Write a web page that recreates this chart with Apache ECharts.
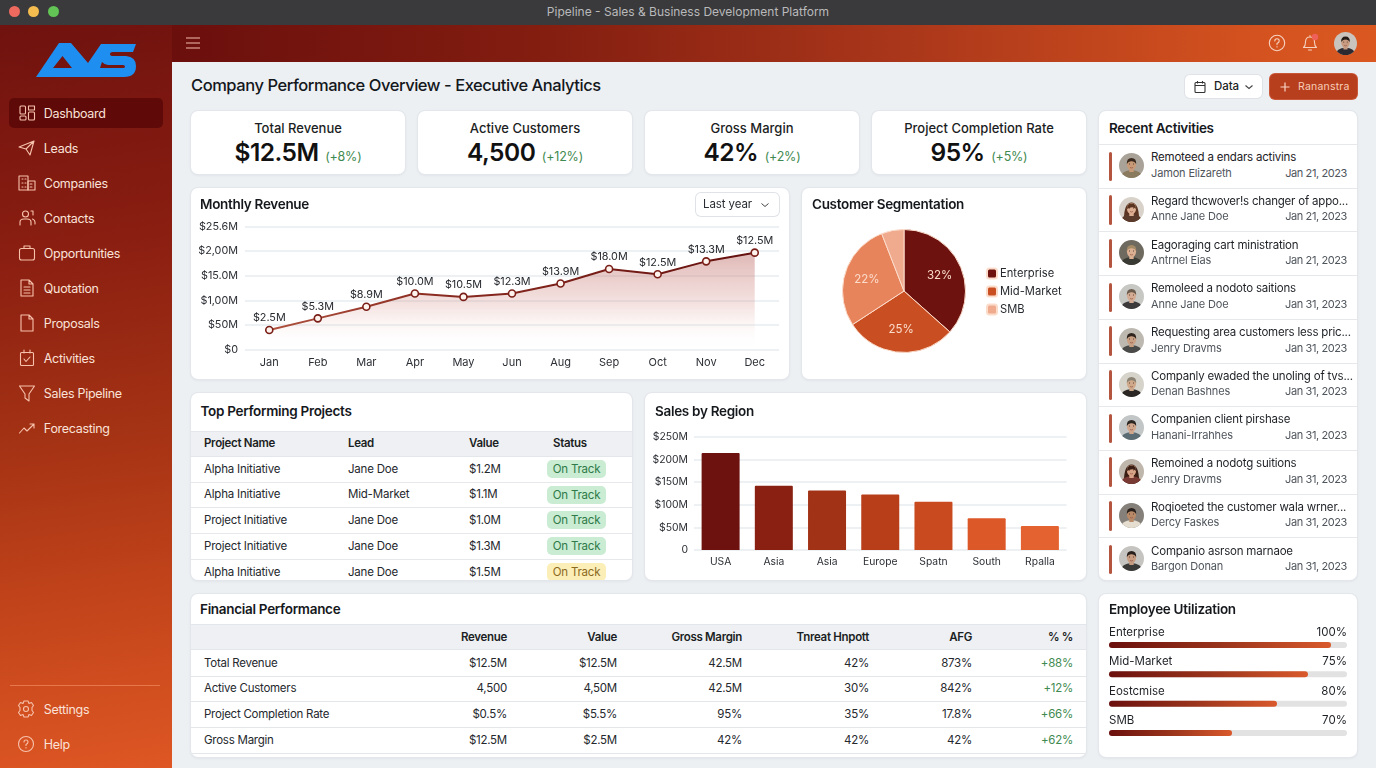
<!DOCTYPE html>
<html><head><meta charset="utf-8"><title>Pipeline</title>
<script src="https://cdn.jsdelivr.net/npm/echarts@6/dist/echarts.min.js"></script>
<style>
html,body{margin:0;padding:0;width:1376px;height:768px;overflow:hidden;background:#edf0f3;font-family:Inter,"Noto Sans",sans-serif;color:#1b1e23}
#root{position:absolute;left:0;top:0;width:1376px;height:768px;overflow:hidden}
.a{position:absolute}
.t{position:absolute;white-space:nowrap;transform:translateY(-50%);line-height:1.2;margin-top:.8px}
.card{position:absolute;background:#fff;border-radius:7px;box-shadow:0 0 0 1px #e3e6ea,0 1px 3px rgba(30,40,60,.10);overflow:hidden}
.t.title{font-size:13.5px;font-weight:600;letter-spacing:-.3px;color:#15181c;margin-top:-.4px}
.pill{position:absolute;border-radius:5px;text-align:center;font-size:11.5px;letter-spacing:-.2px;transform:translateY(-50%);height:18px;line-height:18px}
svg{position:absolute;overflow:visible}
</style></head><body><div id="root"></div>
<script>
// ---------- chart data ----------
var months=['Jan','Feb','Mar','Apr','May','Jun','Aug','Sep','Oct','Nov','Dec'];
var revenue=[4.0,6.35,8.7,11.4,10.7,11.4,13.4,16.35,15.3,17.9,19.66];
var revenueLabels=['$2.5M','$5.3M','$8.9M','$10.0M','$10.5M','$12.3M','$13.9M','$18.0M','$12.5M','$13.3M','$12.5M'];
var revenueTicks=['$0','$50M','$1,00M','$15.0M','$2,00M','$25.6M'];
var segmentNames=['Enterprise','Mid-Market','Other','SMB'];
var segmentValues=[36.6,29.2,28.3,5.9];
var segmentLabels=['32%','25%','22%',''];
var legendNames=['Enterprise','Mid-Market','SMB'];
var regions=['USA','Asia','Asia','Europe','Spatn','South','Rpalla'];
var regionValues=[214.5,142,131.7,122.8,107,70,53];
var regionTicks=['0','$50M','$100M','$150M','$200M','$250M'];
var utilNames=['Enterprise','Mid-Market','Eostcmise','SMB'];
var utilLabels=['100%','75%','80%','70%'];
var utilFill=[93.3,83.6,70.6,51.7];
// ---------- table / list data ----------
var navItems=['Dashboard','Leads','Companies','Contacts','Opportunities','Quotation','Proposals','Activities','Sales Pipeline','Forecasting'];
var kpis=[['Total Revenue','$12.5M','(+8%)'],['Active Customers','4,500','(+12%)'],['Gross Margin','42%','(+2%)'],['Project Completion Rate','95%','(+5%)']];
var projectHead=['Project Name','Lead','Value','Status'];
var projects=[['Alpha Initiative','Jane Doe','$1.2M','On Track'],['Alpha Initiative','Mid-Market','$1.1M','On Track'],['Project Initiative','Jane Doe','$1.0M','On Track'],['Project Initiative','Jane Doe','$1.3M','On Track'],['Alpha Initiative','Jane Doe','$1.5M','On Track']];
var finHead=['','Revenue','Value','Gross Margin','Tnreat Hnpott','AFG','% %'];
var finRows=[['Total Revenue','$12.5M','$12.5M','42.5M','42%','873%','+88%'],['Active Customers','4,500','4,50M','42.5M','30%','842%','+12%'],['Project Completion Rate','$0.5%','$5.5%','95%','35%','17.8%','+66%'],['Gross Margin','$12.5M','$2.5M','42%','42%','42%','+62%']];
var activities=[['Remoteed a endars activins','Jamon Elizareth','Jan 21, 2023'],['Regard thcwover!s changer of appo...','Anne Jane Doe','Jan 21, 2023'],['Eagoraging cart ministration','Antrnel Eias','Jan 21, 2023'],['Remoleed a nodoto saitions','Anne Jane Doe','Jan 31, 2023'],['Requesting area customers less pric...','Jenry Dravms','Jan 31, 2023'],['Companly ewaded the unoling of tvs...','Denan Bashnes','Jan 31, 2023'],['Companien client pirshase','Hanani-Irrahhes','Jan 31, 2023'],['Remoined a nodotg suitions','Jenry Dravms','Jan 31, 2023'],['Roqioeted the customer wala wrner...','Dercy Faskes','Jan 31, 2023'],['Companio asrson marnaoe','Bargon Donan','Jan 31, 2023']];

// ---------- helpers ----------
var root=document.getElementById('root');
function el(cls,css,parent,html){var d=document.createElement('div');d.className=cls;d.style.cssText=css;if(html!==undefined)d.innerHTML=html;(parent||root).appendChild(d);return d;}
function txt(s,x,y,css,parent){var d=el('t','left:'+x+'px;top:'+y+'px;'+(css||''),parent);d.textContent=s;return d;}
function rtxt(s,r,y,css,parent){var d=el('t','right:'+r+'px;top:'+y+'px;'+(css||''),parent);d.textContent=s;return d;}
function card(x,y,x2,y2){return el('card','left:'+x+'px;top:'+y+'px;width:'+(x2-x)+'px;height:'+(y2-y)+'px');}

// ---------- window chrome ----------
el('a','left:0;top:0;width:1376px;height:25px;background:#3a3a3c;border-bottom:1px solid #2a1a18');
[['#ee6a5f',14],['#f5bd4f',33],['#61c454',53]].forEach(function(c){el('a','left:'+(c[1]-5.5)+'px;top:5.5px;width:11px;height:11px;border-radius:50%;background:'+c[0]);});
txt('Pipeline - Sales & Business Development Platform',688,11,'font-size:12px;color:#b9b9bb;transform:translate(-50%,-50%)');
el('a','left:0;top:25px;width:172px;height:743px;background:linear-gradient(172deg,#70120f 0%,#8a1e11 30%,#a43214 55%,#c4451b 78%,#de5724 100%)');
el('a','left:172px;top:25px;width:1204px;height:37px;background:linear-gradient(90deg,#6b0f0d 0%,#821d10 30%,#a9361a 60%,#d4521f 90%,#da5820 100%)');

// logo
el('a','left:0;top:0;width:172px;height:100px',root,'<svg width="172" height="100"><path fill="#1e8ff0" fill-rule="evenodd" d="M36 77 L59 43 L71 43 L88 63 L101 44 L136 44 L133 52 L113 52 Q110 52 110 54 Q110 56 113 56 L126 56 Q136 57 136 66 Q136 77 124 77 L36 77 Z M53 68 L72 68 L62.5 56 Z M100 68 L123 68 Q125 68 125 66.5 Q125 65 123 65 L108 65 Q104 64.5 102 62 Z"/></svg>');

// sidebar
var ic='fill="none" stroke="#f7c2ac" stroke-width="1.1" stroke-linecap="round" stroke-linejoin="round"';
var navIcons=[
 '<rect x="-7" y="-7" width="5.5" height="8" rx="1"/><rect x="1.5" y="-7" width="6" height="4"/><rect x="-7" y="3" width="6" height="4" rx="1"/><rect x="1.5" y="-1" width="6" height="8" rx="1"/>',
 '<path d="M-8 -1 L7 -7 L3 7 L-1 1 Z M-1 1 L7 -7"/>',
 '<rect x="-8" y="-7" width="9" height="14"/><rect x="1" y="-2" width="7" height="9"/><path d="M-5 -4h1M-2 -4h1M-5 0h1M-2 0h1M-5 4h1M-2 4h1M3 1h2M3 4h2"/>',
 '<circle cx="-1.5" cy="-4" r="3"/><path d="M-7 7 V4 Q-7 1 -3 1 H0 Q4 1 4 4 V7 M4 -7 h2 v4 M5.5 1 Q8 2 8 4 V6"/>',
 '<rect x="-7.5" y="-4.5" width="15" height="11.5" rx="2"/><path d="M-3 -4.5 V-7 H3 V-4.5"/>',
 '<path d="M-6 -8 H2 L6 -4 V8 H-6 Z M2 -8 V-4 H6 M-3 -1 H3 M-3 2 H3 M-3 5 H3"/>',
 '<path d="M-6 -8 H2 L6 -4 V8 H-6 Z M2 -8 V-4 H6"/>',
 '<rect x="-6.5" y="-5.5" width="13" height="13" rx="1"/><path d="M-3 -8 V-5 M3 -8 V-5 M-3 1 L-1 3.5 L3 -1"/>',
 '<path d="M-7.5 -7 H7.5 L2 1 V8 L-2 5 V1 Z"/>',
 '<path d="M-7.5 5 L-3 0 L0 3 L7 -4 M3 -4 H7 V0"/>'];
el('a','left:9px;top:98px;width:154px;height:30px;border-radius:5px;background:#5c0a09;opacity:.92');
var navCss='font-size:12.5px;letter-spacing:-.3px;color:#fae2d8;margin-top:0';
navItems.forEach(function(n,i){var y=113+35*i;
 txt(n,43.8,y,navCss);
 el('a','left:27px;top:'+y+'px',root,'<svg width="1" height="1" '+ic+'>'+navIcons[i]+'</svg>');
});
el('a','left:10px;top:685px;width:150px;height:1px;background:#e8774b');
txt('Settings',43.8,708.5,navCss);txt('Help',43.8,744,navCss);
el('a','left:26px;top:709px',root,'<svg width="1" height="1" '+ic+'><circle r="2.5"/><path d="M-2 -8 L2 -8 L3 -5.5 L5.5 -6.5 L7.5 -3.5 L6 -1.5 V1.5 L7.5 3.5 L5.5 6.5 L3 5.5 L2 8 H-2 L-3 5.5 L-5.5 6.5 L-7.5 3.5 L-6 1.5 V-1.5 L-7.5 -3.5 L-5.5 -6.5 L-3 -5.5 Z"/></svg>');
el('a','left:26px;top:744px',root,'<svg width="1" height="1" '+ic+'><circle r="7.5"/><path d="M-2 -2 Q-2 -4 0 -4 Q2 -4 2 -2 Q2 -0.5 0 0.5 V1.5 M0 3.5 V4"/></svg>');

// top bar
var ih='fill="none" stroke="#f6d2c0" stroke-width="1.1" stroke-linecap="round" stroke-linejoin="round"';
el('a','left:193px;top:43px',root,'<svg width="1" height="1" fill="none" stroke="#f4bdb0" stroke-width="1.1"><path d="M-7 -5 H7 M-7 0 H7 M-7 5 H7"/></svg>');
el('a','left:1277px;top:43px',root,'<svg width="1" height="1" '+ih+'><circle r="7.7"/><path d="M-2.2 -2 Q-2.2 -4.2 0 -4.2 Q2.2 -4.2 2.2 -2 Q2.2 -.5 0 .6 V1.6 M0 3.6 V4"/></svg>');
el('a','left:1310px;top:43px',root,'<svg width="1" height="1" '+ih+'><path d="M-6.5 4.5 Q-4.5 3 -4.5 -1 Q-4.5 -6 0 -6 Q4.5 -6 4.5 -1 Q4.5 3 6.5 4.5 Z M-1.5 7 H1.5 M0 -6 V-7.5"/><circle cx="5" cy="-6" r="3.2" fill="#f0605a" stroke="none"/></svg>');

// avatars
function avatar(cx,cy,r,o){
 var hair=o.f?'<path d="M5 27 Q4 6 12.5 5.5 Q21 6 20 27 Z" fill="'+o.h+'"/>':'';
 var top=o.f?'<path d="M8 12 Q8 6.5 12.5 6.5 Q17 6.5 17 12 Q14 8.5 8 12 Z" fill="'+o.h+'"/>':'<path d="M7.8 11 Q7.5 5 12.5 5 Q17.5 5 17.2 11 Q15.5 8 12.5 8.3 Q9.5 8 7.8 11 Z" fill="'+o.h+'"/>';
 el('a','left:'+(cx-r)+'px;top:'+(cy-r)+'px;width:'+(2*r)+'px;height:'+(2*r)+'px;border-radius:50%;overflow:hidden;background:'+o.b,root,
 '<svg viewBox="0 0 25 25" style="left:0;top:0;width:100%;height:100%;overflow:hidden">'+hair+
 '<path d="M1 26 Q2 17.5 12.5 17 Q23 17.5 24 26 Z" fill="'+o.s+'"/><rect x="10.3" y="14" width="4.4" height="5" fill="'+o.k+'"/>'+
 '<ellipse cx="12.5" cy="11.5" rx="4.6" ry="5.6" fill="'+o.k+'"/>'+top+
 '<path d="M10 11 h1 M14 11 h1" stroke="#3a2a22" stroke-width=".8"/><path d="M11 14.5 Q12.5 15.4 14 14.5" stroke="#8a4a3a" stroke-width=".6" fill="none"/></svg>');
}
avatar(1345.5,43,11.5,{b:'#c9c4bd',h:'#241c18',s:'#2c2a30',k:'#c89a80',f:0});

// page heading
txt('Company Performance Overview - Executive Analytics',191,85.3,'font-size:16.5px;font-weight:500;letter-spacing:-.45px;color:#14171b');
var b1=el('a','left:1185px;top:75px;width:77px;height:23px;background:#fff;border-radius:5px;box-shadow:0 0 0 1px #dfe2e6');
txt('Data',29,11.5,'font-size:11.5px;font-weight:500;letter-spacing:-.1px',b1);
el('a','left:1200px;top:86.5px',root,'<svg width="1" height="1" fill="none" stroke="#333" stroke-width="1.1"><rect x="-5" y="-4.5" width="10" height="10" rx="1"/><path d="M-5 -1.5 H5 M-2.5 -6 V-3.5 M2.5 -6 V-3.5"/></svg>');
el('a','left:1249px;top:86.5px',root,'<svg width="1" height="1" fill="none" stroke="#444" stroke-width="1.1"><path d="M-3.5 -1.5 L0 1.5 L3.5 -1.5"/></svg>');
var b2=el('a','left:1270px;top:74px;width:87px;height:24.5px;background:#b83f1d;border-radius:5px;box-shadow:0 0 0 1px #c9583a');
txt('Rananstra',28,12,'font-size:10.5px;color:#f7cdb9;letter-spacing:.2px',b2);
el('a','left:1285px;top:86.5px',root,'<svg width="1" height="1" fill="none" stroke="#f7d6c8" stroke-width="1.2"><path d="M-4.5 0 H4.5 M0 -4.5 V4.5"/></svg>');

// KPI cards
[[191,405],[418,632],[645,859],[872,1086]].forEach(function(p,i){
 var c=card(p[0],111,p[1],174),k=kpis[i];
 txt(k[0],(p[1]-p[0])/2,17,'font-size:13px;font-weight:500;transform:translate(-50%,-50%)',c);
 var w=el('t','left:'+((p[1]-p[0])/2)+'px;top:41px;transform:translate(-50%,-50%)',c);
 w.innerHTML='<span style="font-size:24.5px;font-weight:600;letter-spacing:-.5px;color:#111">'+k[1]+'</span> <span style="font-size:12.5px;letter-spacing:-.2px;color:#3f8a50;margin-left:2px">'+k[2]+'</span>';
});

// cards with charts
var cMonthly=card(191,188,789,379);var cPie=card(802,188,1086,379);
var cTop=card(191,393,632,580);var cSales=card(645,393,1086,580);
var cFin=card(191,594,1086,757);var cRec=card(1099,111,1357,580);var cUtil=card(1099,594,1357,757);
function mount(c){return el('a','left:0;top:0;width:100%;height:100%',c);}
var mMonthly=mount(cMonthly),mPie=mount(cPie),mSales=mount(cSales),mUtil=mount(cUtil);

txt('Monthly Revenue',9,16.5,'',cMonthly).className='t title';
txt('Customer Segmentation',10,16.5,'',cPie).className='t title';
txt('Top Performing Projects',9.5,18,'',cTop).className='t title';
txt('Sales by Region',10,18,'',cSales).className='t title';
txt('Financial Performance',9,15,'',cFin).className='t title';
txt('Recent Activities',10,17,'',cRec).className='t title';
txt('Employee Utilization',10,15,'',cUtil).className='t title';

var dd=el('a','left:505px;top:5px;width:83px;height:23px;background:#fff;border-radius:5px;box-shadow:0 0 0 1px #dfe2e6',cMonthly);
txt('Last year',7,11.5,'font-size:11.5px;letter-spacing:-.1px;color:#2a2d33',dd);
el('a','left:69px;top:11.5px',dd,'<svg width="1" height="1" fill="none" stroke="#444" stroke-width="1"><path d="M-3.5 -1.5 L0 1.5 L3.5 -1.5"/></svg>');

// projects table
var headCss='font-size:11.5px;font-weight:600;letter-spacing:-.3px';
var bodyCss='font-size:11.5px;letter-spacing:-.2px;color:#25282d';
el('a','left:0;top:38px;width:100%;height:26px;background:#eef0f3;border-top:1px solid #e3e6ea;border-bottom:1px solid #e3e6ea;box-sizing:border-box',cTop);
var pX=[13,157,278,362];
projectHead.forEach(function(h,i){txt(h,pX[i],50.5,headCss,cTop);});
projects.forEach(function(r,i){var y=76+25.7*i;
 if(i<4)el('a','left:0;top:'+(y+12.6)+'px;width:100%;height:1px;background:#e6e8eb',cTop);
 txt(r[0],13,y,bodyCss,cTop);txt(r[1],157,y,bodyCss,cTop);txt(r[2],278,y,bodyCss,cTop);
 var p=el('pill','left:356px;top:'+y+'px;width:59px;background:'+(i==4?'#fbeeb6':'#c9ecd2')+';color:'+(i==4?'#8c6a1e':'#2f7a48'),cTop);p.textContent=r[3];
});

// financial table
el('a','left:0;top:30px;width:100%;height:26px;background:#eef0f3;border-top:1px solid #e3e6ea;border-bottom:1px solid #e3e6ea;box-sizing:border-box',cFin);
var fRight=[0,507,617,742,869,972,1073];
finHead.forEach(function(h,i){if(i)rtxt(h,895-(fRight[i]-191),43,headCss,cFin);});
finRows.forEach(function(r,i){var y=69+25.7*i;
 el('a','left:0;top:'+(y+12.6)+'px;width:100%;height:1px;background:#e4e7ea',cFin);
 txt(r[0],13,y,'font-size:11.5px;letter-spacing:-.25px;color:#25282d',cFin);
 for(var j=1;j<7;j++)rtxt(r[j],895-(fRight[j]-191),y,'font-size:11.5px;letter-spacing:-.25px;color:'+(j==6?'#3f8a50':'#25282d'),cFin);
});

// activities
var people=[{b:'#a9a298',h:'#3a2a1e',s:'#8a7a5e',k:'#c89a78',f:0},{b:'#d8d2ca',h:'#5a3420',s:'#5a3a2a',k:'#dcae92',f:1},{b:'#6f6a60',h:'#a58a66',s:'#3a3a34',k:'#dbb092',f:0},{b:'#c7c7c4',h:'#6a5a4c',s:'#3c3a3a',k:'#d4ac94',f:0},{b:'#bdb9b1',h:'#2f251e',s:'#4a4a48',k:'#c9a084',f:0},{b:'#d6d3cb',h:'#8a8272',s:'#2a2724',k:'#cfa98a',f:0},{b:'#c3c6c6',h:'#2c2622',s:'#5c6c74',k:'#d0a68c',f:0},{b:'#bfb6ac',h:'#3a1e14',s:'#7a3a34',k:'#d8a488',f:1},{b:'#85817a',h:'#2a211c',s:'#e4ddd0',k:'#b88a68',f:0},{b:'#c6c4c0',h:'#2a211c',s:'#3a3a38',k:'#c89c80',f:0}];
activities.forEach(function(a,i){var top=33+43.7*i;
 el('a','left:0;top:'+top+'px;width:100%;height:1px;background:#e6e8eb',cRec);
 el('a','left:10px;top:'+(top+7.5)+'px;width:3px;height:29.5px;background:#b4553f;border-radius:1.5px',cRec);
 txt(a[0],52,top+13.5,'font-size:11.5px;letter-spacing:-.2px;color:#1e2126',cRec);
 txt(a[1],52,top+29,'font-size:11px;letter-spacing:-.15px;color:#4f555c',cRec);
 rtxt(a[2],10,top+29,'font-size:11px;letter-spacing:-.4px;color:#4f555c',cRec);
 avatar(1131.5,111+top+21.5,12.5,people[i]);
});

// utilization labels
utilNames.forEach(function(n,i){var y=38+29.4*i;
 txt(n,10,y,'font-size:11.5px;color:#1e2126',cUtil);rtxt(utilLabels[i],10,y,'font-size:11.5px;color:#1e2126',cUtil);
});

// ---------- charts ----------
var gridC='#e9ecef';
var fontF='Inter';
var lineChart=echarts.init(mMonthly,null,{renderer:'canvas'});
lineChart.setOption({animation:false,textStyle:{fontFamily:fontF},
 grid:{left:54,right:10,top:38.3,bottom:29.3},
 xAxis:{type:'category',data:months,axisLine:{show:false},axisTick:{show:false},axisLabel:{color:'#2c2f35',fontSize:11,margin:7}},
 yAxis:{type:'value',min:0,max:25,interval:5,axisLine:{show:false},axisTick:{show:false},
  splitLine:{lineStyle:{color:gridC,width:1.5}},
  axisLabel:{color:'#2c2f35',fontSize:10.8,margin:7,formatter:function(v){return revenueTicks[v/5];}}},
 series:[{type:'line',data:revenue,smooth:false,symbol:'circle',symbolSize:7,
  lineStyle:{width:2,color:{type:'linear',x:0,y:0,x2:1,y2:0,colorStops:[{offset:0,color:'#b0533f'},{offset:.35,color:'#8a2a20'},{offset:1,color:'#64110f'}]}},
  itemStyle:{color:'#fff3ee',borderColor:'#7a1f18',borderWidth:1.6},
  areaStyle:{color:{type:'linear',x:0,y:0,x2:0,y2:1,colorStops:[{offset:0,color:'rgba(170,70,65,.55)'},{offset:.55,color:'rgba(200,110,100,.27)'},{offset:1,color:'rgba(255,255,255,0)'}]}},
  label:{show:true,position:'top',distance:2,color:'#26292e',fontSize:10.8,formatter:function(p){return revenueLabels[p.dataIndex];}}}]
});

var segColors=['#6d120e','#c94f22','#e8845c','#f0aa8e'];
var pieChart=echarts.init(mPie);
pieChart.setOption({animation:false,textStyle:{fontFamily:fontF},
 legend:{orient:'vertical',left:184,top:79.5,padding:0,itemWidth:10,itemHeight:10,itemGap:6,icon:'roundRect',
  data:legendNames.map(function(n){return {name:n};}),textStyle:{color:'#26292e',fontSize:11.2,padding:[0,0,0,-2]}},
 series:[
  {type:'pie',center:[102,103],radius:[0,61.5],startAngle:90,clockwise:true,label:{show:false},labelLine:{show:false},
   itemStyle:{borderColor:'#fbdccb',borderWidth:1},
   data:segmentNames.map(function(n,i){return {name:n,value:segmentValues[i],itemStyle:{color:segColors[i]}};})},
  {type:'pie',center:[102,103],radius:[0,72],startAngle:90,silent:true,legendHoverLink:false,itemStyle:{color:'transparent'},labelLine:{show:false},
   label:{show:true,position:'inside',color:'#fbdccb',fontSize:11.5,formatter:function(p){return segmentLabels[p.dataIndex];}},
   data:segmentNames.map(function(n,i){return {name:n+' ',value:segmentValues[i]};})}
 ]
});

var regionColors=['#6e120f','#8a2012','#a23216','#b83e1a','#ca4a1f','#dd5828','#e4622f'];
var barChart=echarts.init(mSales);
barChart.setOption({animation:false,textStyle:{fontFamily:fontF},
 grid:{left:49,right:19.5,top:44,bottom:30},
 xAxis:{type:'category',data:regions,axisLine:{show:false},axisTick:{show:false},axisLabel:{color:'#2c2f35',fontSize:10.3,margin:7,interval:0}},
 yAxis:{type:'value',min:0,max:250,interval:50,axisLine:{show:false},axisTick:{show:false},
  splitLine:{lineStyle:{color:gridC,width:1.5}},
  axisLabel:{color:'#2c2f35',fontSize:10.4,margin:6,formatter:function(v){return regionTicks[v/50];}}},
 series:[{type:'bar',barWidth:38,data:regionValues.map(function(v,i){return {value:v,itemStyle:{color:regionColors[i],borderRadius:[1,1,0,0]}};})}]
});

var utilChart=echarts.init(mUtil);
utilChart.setOption({animation:false,
 grid:{left:10,right:10,top:36.4,height:117.2},
 xAxis:{type:'value',min:0,max:100,show:false},
 yAxis:{type:'category',inverse:true,data:utilNames,show:false},
 series:[{type:'bar',barWidth:6,data:utilFill,showBackground:true,backgroundStyle:{color:'#e2e2e2',borderRadius:3},
  itemStyle:{borderRadius:3,color:{type:'linear',x:0,y:0,x2:1,y2:0,colorStops:[{offset:0,color:'#6b100e'},{offset:.5,color:'#99341c'},{offset:1,color:'#d9592c'}]}}}]
});
</script></body></html>
